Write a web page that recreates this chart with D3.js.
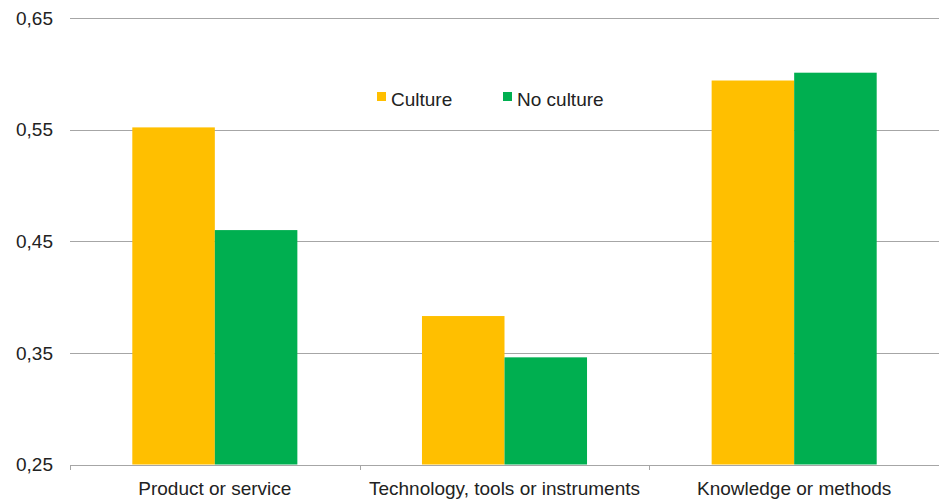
<!DOCTYPE html>
<html><head><meta charset="utf-8">
<script src="https://cdn.jsdelivr.net/npm/d3@7"></script>
<style>body{margin:0;background:#fff}svg{display:block}text{font-family:"Liberation Sans",Arial,sans-serif;fill:#222}</style>
</head><body>
<svg id="c" width="939" height="502"></svg>
<script>
const categories = ["Product or service", "Technology, tools or instruments", "Knowledge or methods"];
const seriesNames = ["Culture", "No culture"];
const culture = [0.552, 0.383, 0.594];
const noCulture = [0.460, 0.346, 0.601];
const yTicks = [0.25, 0.35, 0.45, 0.55, 0.65];
const yTickLabels = ["0,25", "0,35", "0,45", "0,55", "0,65"];
const colors = ["#FFBF00", "#00AF50"];

(function () {
const svg = d3.select("#c");
const mLeft = 70, mRight = 939, mTop = 18, mBottom = 464.5;
const x = d3.scaleBand().domain(categories).range([mLeft, mRight]).paddingInner(0).paddingOuter(0);
const x1 = d3.scaleBand().domain(seriesNames).range([0, x.bandwidth()]).paddingInner(0).paddingOuter(0.755);
const y = d3.scaleLinear().domain([0.25, 0.65]).range([mBottom, mTop]);

// gridlines
svg.append("g").selectAll("line").data(yTicks).join("line")
  .attr("x1", mLeft).attr("x2", mRight)
  .attr("y1", d => Math.round(y(d)) + 0.5).attr("y2", d => Math.round(y(d)) + 0.5)
  .attr("stroke", "#a6a6a6").attr("stroke-width", 1);

// y labels
svg.append("g").selectAll("text").data(yTicks).join("text")
  .attr("x", 53).attr("y", d => y(d)).attr("dy", "0.35em")
  .attr("text-anchor", "end").style("font-size", "19px")
  .text((d, i) => yTickLabels[i]);

// bars
const data = categories.map((c, i) => ({c, vals: [culture[i], noCulture[i]]}));
const g = svg.append("g").selectAll("g").data(data).join("g")
  .attr("transform", d => `translate(${x(d.c)},0)`);
g.selectAll("rect").data(d => d.vals.map((v, j) => ({s: seriesNames[j], v, j}))).join("rect")
  .attr("x", d => x1(d.s)).attr("width", x1.bandwidth())
  .attr("y", d => y(d.v)).attr("height", d => y(0.25) - y(d.v))
  .attr("fill", d => colors[d.j]);

// x tick marks
const tickXs = categories.map(c => x(c));
svg.append("g").selectAll("line").data(tickXs).join("line")
  .attr("x1", d => Math.round(d) + 0.5).attr("x2", d => Math.round(d) + 0.5)
  .attr("y1", Math.round(mBottom) + 0.5).attr("y2", Math.round(mBottom) + 5)
  .attr("stroke", "#a6a6a6");

// x labels
svg.append("g").selectAll("text").data(categories).join("text")
  .attr("x", d => x(d) + x.bandwidth() / 2).attr("y", 495)
  .attr("text-anchor", "middle").style("font-size", "19px")
  .text(d => d);

// legend
const legendX = [377, 503];
const lg = svg.append("g").selectAll("g").data(seriesNames).join("g")
  .attr("transform", (d, i) => `translate(${legendX[i]},92)`);
lg.append("rect").attr("width", 9).attr("height", 9).attr("fill", (d, i) => colors[i]);
lg.append("text").attr("x", 14).attr("y", 14).style("font-size", "19px").text(d => d);
})();
</script>
</body></html>
